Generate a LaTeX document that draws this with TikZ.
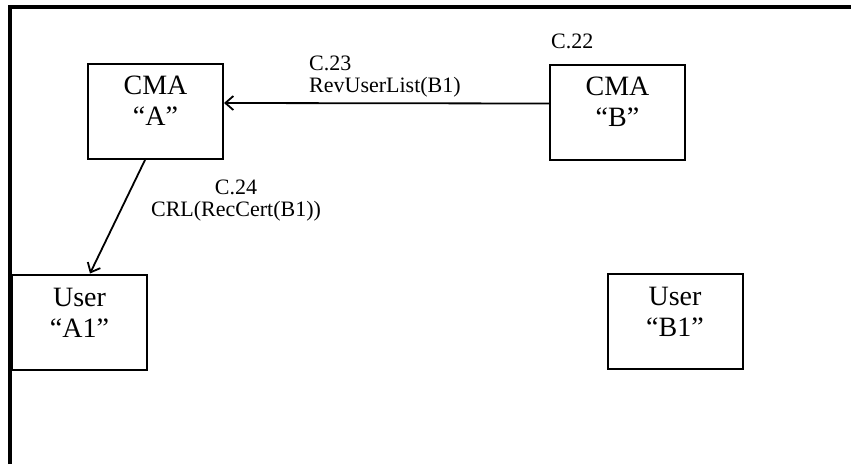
\documentclass[tikz,border=0pt]{standalone}
\usepackage{fontspec}
\setmainfont{Liberation Serif}
\usetikzlibrary{arrows.meta}

\tikzset{
    entity/.style={draw, line width=2pt, minimum width=135pt, minimum height=95pt, inner sep=0pt},
    entitytext/.style={anchor=north, inner sep=0pt, align=center, font=\fontsize{28}{31}\selectfont},
    msg/.style={line width=1.8pt, -{Straight Barb[length=8pt, width=14pt, line width=1.8pt]}},
    msgtext/.style={inner sep=0pt, font=\fontsize{22}{22}\selectfont}
}

\begin{document}
\begin{tikzpicture}[x=1pt, y=-1pt]
    \useasboundingbox (0,0) rectangle (851,464);

    % cadre
    \draw[line width=4pt] (9.5,464) -- (9.5,7) -- (851,7);

    % les boîtes
    \node[entity] (cmaA) at (155.5,111.5) {};
    \node[entity] (cmaB) at (617.5,112) {};
    \node[entity] (userA) at (79.5,322) {};
    \node[entity] (userB) at (675,321) {};

    \node[entitytext] (cmaAtext) at ([yshift=-13pt]cmaA.north) {CMA\\``A''};
    \node[entitytext] (cmaBtext) at ([yshift=-13pt]cmaB.north) {CMA\\``B''};
    \node[entitytext] (userAtext) at ([yshift=-14pt]userA.north) {User\\``A1''};
    \node[entitytext] (userBtext) at ([yshift=-14pt]userB.north) {User\\``B1''};

    % les messages
    \draw[msg] ([yshift=8.5pt]cmaB.west) -- ([yshift=8.5pt]cmaA.east);
    \draw[msg] ([xshift=-10.5pt]cmaA.south) -- ([xshift=10.5pt]userA.north);

    % Écriture des étiquettes
    \node[msgtext, anchor=base west] (c22) at (551,48) {C.22};
    \node[msgtext, anchor=base west, align=left] (c23) at (309,92) {C.23\\RevUserList(B1)};
    \node[msgtext, anchor=base, align=center] (c24) at (236,216) {C.24\\CRL(RecCert(B1))};
\end{tikzpicture}
\end{document}
